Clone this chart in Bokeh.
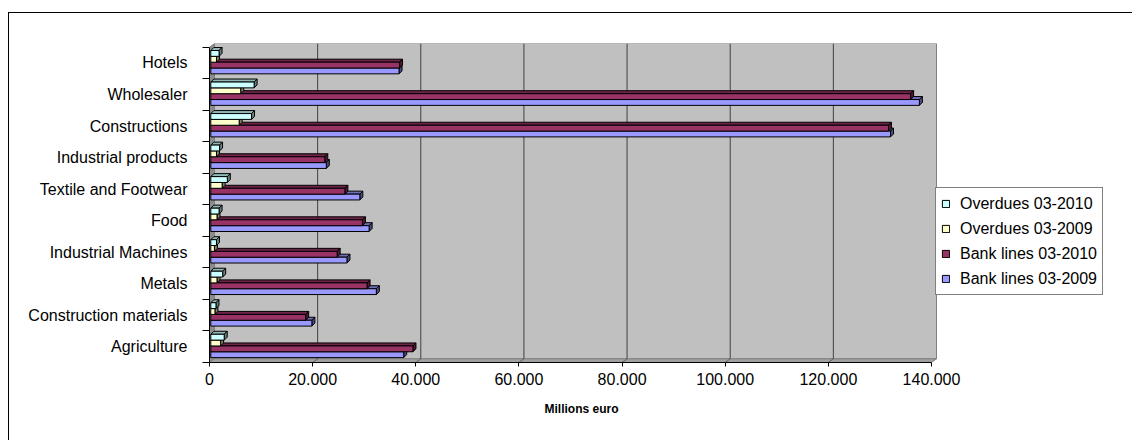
from bokeh.plotting import figure
from bokeh.models import Range1d, FixedTicker, Legend, LegendItem, Title
from bokeh.embed import file_html
from bokeh.resources import INLINE

# ---------------- data (millions of euro) ----------------
categories = ["Agriculture", "Construction materials", "Metals", "Industrial Machines", "Food",
              "Textile and Footwear", "Industrial products", "Constructions", "Wholesaler", "Hotels"]
bank_lines_2009 = [37400, 19600, 32100, 26400, 30700, 28900, 22400, 131800, 137400, 36500]
bank_lines_2010 = [39200, 18400, 30300, 24500, 29400, 26000, 22100, 131400, 135700, 36600]
overdues_2009 = [1900, 800, 1200, 700, 1200, 2200, 1100, 5500, 5800, 1100]
overdues_2010 = [2600, 1000, 2300, 1100, 1600, 3200, 1700, 7900, 8400, 1600]
series_names = ["Bank lines 03-2009", "Bank lines 03-2010", "Overdues 03-2009", "Overdues 03-2010"]
x_ticks = [0, 20000, 40000, 60000, 80000, 100000, 120000, 140000]
x_title = "Millions euro"

# ---------------- style ----------------
FONT = "Liberation Sans"
colors = ["#9999FF", "#993366", "#FFFFCC", "#CCFFFF"]
X_MAX = x_ticks[-1]
PAGE_W, PAGE_H = 1133, 441
BOX_LEFT, BOX_TOP = 8, 12          # outer chart border position on the page
OFF_X, OFF_Y = BOX_LEFT + 1, BOX_TOP + 1
FRAME_LEFT, FRAME_TOP = 209, 43    # page pixels
AXIS_W, FRAME_H = 727, 319         # width of the value axis area incl. wall depth
BAND_PX = 31.53                    # pixels per category band
WALL_DX_PX, WALL_DY_PX = 5.0, 3.7  # depth of the 3-D walls
BAR_D_PX = 3.0                     # depth of the bars
BAR_SHIFT_PX = 1.3
BAR_H = 0.185
GROUP_SHIFT = 0.025
TITLE_LEFT_PX = 544                # page x of the axis title's left edge
LEGEND_LEFT_PX, LEGEND_BOTTOM_PX = 935, 295

n = len(categories)
y_top = n + WALL_DY_PX / BAND_PX
px_per_unit = (AXIS_W - WALL_DX_PX) / X_MAX
unit_per_px_x = 1.0 / px_per_unit

plot_w = PAGE_W - OFF_X
plot_h = PAGE_H - OFF_Y
frame_w = plot_w - (FRAME_LEFT - OFF_X)
x_end = frame_w * unit_per_px_x

WDX = WALL_DX_PX * unit_per_px_x
WDY = WALL_DY_PX / BAND_PX
BDX = BAR_D_PX * unit_per_px_x
BDY = BAR_D_PX / BAND_PX
BSH = BAR_SHIFT_PX * unit_per_px_x

p = figure(width=plot_w, height=plot_h, output_backend="svg", toolbar_location=None,
           x_range=Range1d(0, x_end), y_range=Range1d(0, y_top),
           min_border_left=FRAME_LEFT - OFF_X,
           min_border_right=0,
           min_border_top=FRAME_TOP - OFF_Y,
           min_border_bottom=plot_h - (FRAME_TOP - OFF_Y) - FRAME_H,
           margin=(BOX_TOP, 0, 0, BOX_LEFT),
           styles={"border-left": "1px solid black", "border-top": "1px solid black"})
p.outline_line_color = None
p.background_fill_color = "white"
p.border_fill_color = "white"
p.xgrid.visible = False
p.ygrid.visible = False

# back wall, side wall, floor
p.quad(left=[WDX], right=[X_MAX + WDX], bottom=[WDY], top=[n + WDY],
       fill_color="#C0C0C0", line_color="#808080", line_width=1)
p.patch([0, WDX, WDX, 0], [0, WDY, n + WDY, n], fill_color="#8C8C8C", line_color="#808080")
p.patch([0, X_MAX, X_MAX + WDX, WDX], [0, 0, WDY, WDY], fill_color="#A0A0A0", line_color="#808080")

# gridlines on back wall and floor
gx = x_ticks[1:-1]
p.segment(x0=[t + WDX for t in gx], y0=[WDY] * len(gx), x1=[t + WDX for t in gx], y1=[n + WDY] * len(gx),
          line_color="#404040", line_width=1)
p.segment(x0=gx, y0=[0] * len(gx), x1=[t + WDX for t in gx], y1=[WDY] * len(gx),
          line_color="#606060", line_width=1)


def shade(hexcol, f):
    r, g, b = int(hexcol[1:3], 16), int(hexcol[3:5], 16), int(hexcol[5:7], 16)
    return "#%02X%02X%02X" % (int(r * f), int(g * f), int(b * f))


series = [bank_lines_2009, bank_lines_2010, overdues_2009, overdues_2010]
renderers = []
for k, (vals, col) in enumerate(zip(series, colors)):
    off = (k - 1.5) * BAR_H + GROUP_SHIFT
    yc = [i + 0.5 + off for i in range(n)]
    top_xs, top_ys, side_xs, side_ys = [], [], [], []
    for v, y in zip(vals, yc):
        L, R = BSH, BSH + v
        b, t = y - BAR_H / 2, y + BAR_H / 2
        top_xs.append([L, R, R + BDX, L + BDX])
        top_ys.append([t, t, t + BDY, t + BDY])
        side_xs.append([R, R + BDX, R + BDX, R])
        side_ys.append([b, b + BDY, t + BDY, t])
    p.patches(top_xs, top_ys, fill_color=shade(col, 0.72), line_color="black", line_width=1)
    p.patches(side_xs, side_ys, fill_color=shade(col, 0.5), line_color="black", line_width=1)
    r = p.hbar(y=yc, left=[BSH] * n, right=[BSH + v for v in vals], height=BAR_H,
               fill_color=col, line_color="black", line_width=1)
    renderers.append(r)

# axes
xa = p.xaxis[0]
xa.ticker = FixedTicker(ticks=x_ticks)
xa.major_label_overrides = {t: f"{t:,}".replace(",", ".") for t in x_ticks}
xa.bounds = (0, X_MAX)
xa.axis_line_color = "black"
xa.major_tick_out = 4
xa.major_tick_in = 0
xa.minor_tick_line_color = None
xa.major_label_standoff = 6
xa.major_label_text_font = FONT
xa.major_label_text_font_size = "16px"
xa.major_label_text_color = "black"

p.add_layout(Title(text=x_title, align="left", offset=TITLE_LEFT_PX - FRAME_LEFT,
                   text_font=FONT, text_font_size="12px", text_font_style="bold",
                   text_color="black", standoff=24), "below")

ya = p.yaxis[0]
ya.ticker = FixedTicker(ticks=[i + 0.5 for i in range(n)], minor_ticks=list(range(n + 1)))
ya.major_label_overrides = {i + 0.5: c for i, c in enumerate(categories)}
ya.bounds = (0, n)
ya.axis_line_color = "black"
ya.major_tick_line_color = None
ya.major_tick_out = 0
ya.major_tick_in = 0
ya.minor_tick_line_color = "black"
ya.minor_tick_out = 7
ya.minor_tick_in = 0
ya.major_label_standoff = 15
ya.major_label_text_font = FONT
ya.major_label_text_font_size = "16px"
ya.major_label_text_color = "black"

legend = Legend(items=[LegendItem(label=series_names[k], renderers=[renderers[k]]) for k in [3, 2, 1, 0]],
                location=(LEGEND_LEFT_PX - FRAME_LEFT, (FRAME_TOP + FRAME_H) - LEGEND_BOTTOM_PX),
                orientation="vertical",
                label_text_font=FONT, label_text_font_size="16px", label_text_color="black",
                glyph_width=9, glyph_height=9, label_height=21, spacing=4, padding=5,
                label_standoff=10, border_line_color="black", border_line_width=1,
                background_fill_color="white", background_fill_alpha=1.0, margin=0)
p.add_layout(legend)

open("out.html", "w").write(file_html(p, INLINE))
